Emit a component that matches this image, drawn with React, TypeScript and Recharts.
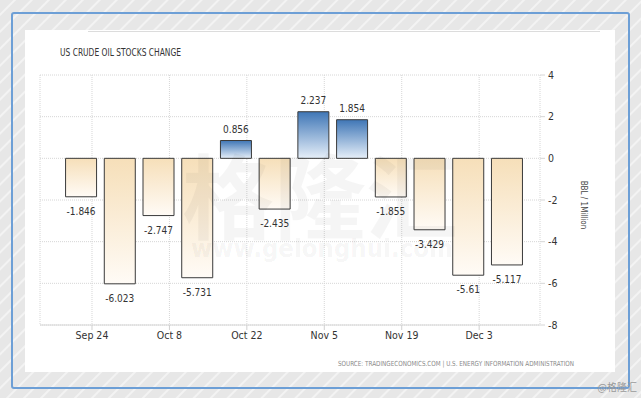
import React from "react";
import { BarChart, Bar, XAxis, YAxis, CartesianGrid, Cell, LabelList } from "recharts";

// ---- data ----
const weekDates = [
  "2018-09-22", "2018-09-29", "2018-10-06", "2018-10-13", "2018-10-20", "2018-10-27",
  "2018-11-03", "2018-11-10", "2018-11-17", "2018-11-24", "2018-12-01", "2018-12-08",
];
const stockChange = [-1.846, -6.023, -2.747, -5.731, 0.856, -2.435, 2.237, 1.854, -1.855, -3.429, -5.61, -5.117];
const tickDates = ["2018-09-24", "2018-10-08", "2018-10-22", "2018-11-05", "2018-11-19", "2018-12-03"];
const tickLabels = ["Sep 24", "Oct 8", "Oct 22", "Nov 5", "Nov 19", "Dec 3"];
const yTicks = [-8, -6, -4, -2, 0, 2, 4];

const title = "US CRUDE OIL STOCKS CHANGE";
const yAxisTitle = "BBL / 1Million";
const sourceText = "SOURCE: TRADINGECONOMICS.COM | U.S. ENERGY INFORMATION ADMINISTRATION";

const DAY = 86400000;
const t0 = Date.parse(weekDates[0]);
const toDay = (d: string) => Math.round((Date.parse(d) - t0) / DAY);
const data = weekDates.map((d, i) => ({ day: toDay(d), value: stockChange[i] }));
const tickDays = tickDates.map(toDay);
const labelOf = (v: number) => {
  const i = tickDays.indexOf(v);
  return i >= 0 ? tickLabels[i] : "";
};

const FONT = "'Liberation Sans Narrow', 'DejaVu Sans Condensed', 'Liberation Sans', Arial, sans-serif";

const ValueLabel = (props: any) => {
  const { x, y, width, height, value } = props;
  const top = Math.min(y, y + height);
  const bottom = Math.max(y, y + height);
  const cx = x + width / 2;
  const ty = value >= 0 ? top - 8 : bottom + 18;
  return (
    <text x={cx} y={ty} textAnchor="middle" fontSize={10} fill="#333" fontFamily={FONT}>
      {String(value)}
    </text>
  );
};

const AxisTitle = (props: any) => {
  const vb = props.viewBox || {};
  const x = (vb.x ?? 540) + 43;
  const y = (vb.y ?? 75) + (vb.height ?? 250) / 2 + 5;
  return (
    <text x={x} y={y} transform={`rotate(90, ${x}, ${y})`} textAnchor="middle" dominantBaseline="central"
      fontSize={8} fill="#444" fontFamily={FONT}>
      {yAxisTitle}
    </text>
  );
};

export default function App() {
  return (
    <div
      style={{
        position: "absolute",
        left: 0,
        top: 0,
        width: 641,
        height: 398,
        overflow: "hidden",
        background:
          "repeating-linear-gradient(135deg, #e7e7e7 0px, #e7e7e7 9px, #f3f3f3 10px, #f3f3f3 11px, #e7e7e7 12px)",
      }}
    >
      <div
        style={{
          position: "absolute",
          left: 11,
          top: 12,
          width: 619,
          height: 377,
          border: "2px solid #6d9fd6",
          borderRadius: 3,
          boxSizing: "border-box",
        }}
      />
      <div style={{ position: "absolute", left: 25, top: 30, width: 590, height: 342, background: "#fff" }} />
      <div style={{ position: "absolute", left: 88, top: 31, width: 512, height: 1, background: "#dcdcdc" }} />

      <div style={{ position: "absolute", left: 0, top: 0 }}>
        <BarChart width={641} height={398} data={data} margin={{ top: 75, right: 41, bottom: 43, left: 40 }}>
          <defs>
            <linearGradient id="posGrad" x1="0" y1="0" x2="0" y2="1">
              <stop offset="0%" stopColor="#3f76b6" />
              <stop offset="100%" stopColor="#e6eff9" />
            </linearGradient>
            <linearGradient id="negGrad" x1="0" y1="0" x2="0" y2="1">
              <stop offset="0%" stopColor="#f6dfb9" />
              <stop offset="100%" stopColor="#fffbf6" />
            </linearGradient>
          </defs>
          <CartesianGrid stroke="#d6d6d6" strokeDasharray="1 1" />
          <XAxis
            type="number"
            dataKey="day"
            domain={[-7.4, 83]}
            ticks={tickDays}
            tickFormatter={labelOf}
            interval={0}
            height={30}
            tickSize={5}
            tickLine={{ stroke: "#d0d0d0" }}
            axisLine={{ stroke: "#d6d6d6" }}
            tick={{ fontSize: 10.5, fill: "#333", fontFamily: FONT }}
            allowDataOverflow
          />
          <YAxis
            orientation="right"
            domain={[-8, 4]}
            ticks={yTicks}
            interval={0}
            width={60}
            tickSize={5}
            tickMargin={3}
            axisLine={false}
            tickLine={{ stroke: "#d6d6d6" }}
            tick={{ fontSize: 10.5, fill: "#333", fontFamily: FONT }}
            label={<AxisTitle />}
          />
          <Bar dataKey="value" barSize={31} stroke="#3a3a3a" strokeWidth={1} isAnimationActive={false}>
            {data.map((d, i) => (
              <Cell key={i} fill={d.value >= 0 ? "url(#posGrad)" : "url(#negGrad)"} />
            ))}
            <LabelList dataKey="value" content={<ValueLabel />} />
          </Bar>
        </BarChart>
      </div>

      <svg
        width={641}
        height={398}
        style={{ position: "absolute", left: 0, top: 0, pointerEvents: "none" }}
      >
        <text x={60} y={56} fontSize={10} fill="#333" fontFamily={FONT} textLength={121} lengthAdjust="spacingAndGlyphs">
          {title}
        </text>
        <text x={574} y={366} textAnchor="end" fontSize={7} fill="#8a8a8a" fontFamily={FONT} textLength={236} lengthAdjust="spacingAndGlyphs">
          {sourceText}
        </text>
        <text x={320} y={232} textAnchor="middle" fontSize={92} fill="#000" fillOpacity={0.04}
          fontFamily="'Noto Sans CJK SC', sans-serif" fontWeight={700}>
          格隆汇
        </text>
        <text x={322} y={257} textAnchor="middle" fontSize={24} fill="#000" fillOpacity={0.05}
          fontFamily="'DejaVu Sans', sans-serif" fontWeight={700} textLength={262} lengthAdjust="spacingAndGlyphs">
          www.gelonghui.com
        </text>
        <text x={637} y={391} textAnchor="end" fontSize={10} fill="#9a9a9a" fontFamily="'Noto Sans CJK SC', sans-serif">
          @格隆汇
        </text>
      </svg>
    </div>
  );
}
